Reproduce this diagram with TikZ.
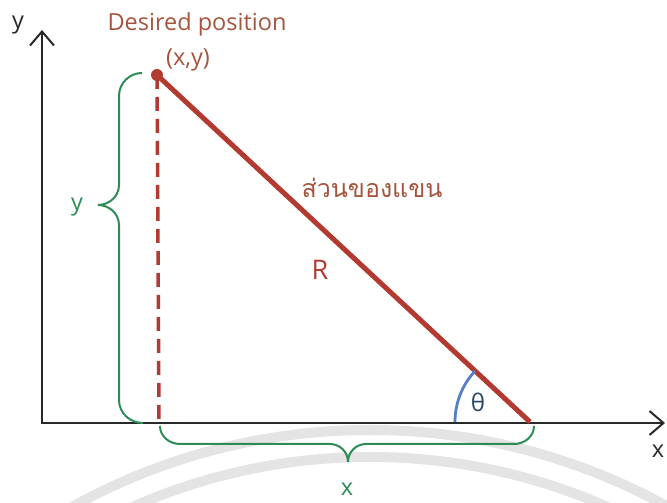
\documentclass[tikz,border=0pt]{standalone}
\usepackage{fontspec}
\setmainfont{Open Sans}
\newfontfamily\thaifont[Script=Thai]{Loma}
\usetikzlibrary{arrows.meta,calc}
\definecolor{armred}{RGB}{178,58,48}
\definecolor{txtbrown}{RGB}{165,85,62}
\definecolor{brgreen}{RGB}{45,140,85}
\definecolor{angblue}{RGB}{85,125,200}
\definecolor{thetablue}{RGB}{40,72,100}
\definecolor{axisgrey}{RGB}{40,42,42}
\definecolor{wmgrey}{RGB}{228,228,228}
\begin{document}
\begin{tikzpicture}[x=1pt,y=1pt,
  axisline/.style={line width=2pt, draw=axisgrey, -{Straight Barb[length=14pt,width=24pt,line width=2pt]}},
  brace/.style={draw=brgreen, line width=2pt},
  lbl/.style={inner sep=0pt, font=\fontsize{23.5}{27}\selectfont},
  biglbl/.style={inner sep=0pt, font=\fontsize{27}{31}\selectfont}]
\useasboundingbox (0,0) rectangle (667,503);
% watermark
\begin{scope}
\clip (0,0) rectangle (667,503);
\draw[wmgrey, line width=10pt] (370,-542) circle[radius=615pt];
\draw[wmgrey, line width=10pt] (370,-542) circle[radius=588pt];
\end{scope}
% points
\coordinate (O) at (42,80);
\coordinate (ytip) at (42,473);
\coordinate (xtip) at (665,80);
\coordinate (P) at (157,428);
\coordinate (Q) at (530,81);
\coordinate (F) at (159,80);
\coordinate (A) at (455,81);
% axes
\draw[axisline] ([yshift=-1pt]O) -- (ytip);
\draw[axisline] ([xshift=-1pt]O) -- (xtip);
\node[lbl, text=axisgrey] (ylab) at (18,478) {y};
\node[lbl, text=axisgrey] (xlab) at (658,52) {x};
% braces
\draw[brace] (142,430) to[out=180,in=90] (119,407) -- (119,318)
  to[out=-90,in=0] (98,298) to[out=0,in=90] (119,278) -- (119,103)
  to[out=-90,in=180] (143,80);
\node[lbl, text=brgreen] (ybr) at (77,296) {y};
\draw[brace] (160,77) to[out=-90,in=180] (180,59) -- (330,59)
  to[out=0,in=90] (348,41) to[out=90,in=180] (366,59) -- (514,59)
  to[out=0,in=-90] (534,77);
\node[lbl, text=brgreen] (xbr) at (347,14) {x};
% arm
\draw[armred, line width=3.5pt, dash pattern=on 14pt off 8pt] (P) -- (F);
\draw[armred, line width=5pt] (P) -- (Q);
\fill[armred] (P) circle[radius=6pt];
% angle
\draw[angblue, line width=2.8pt] (A) arc[start angle=180, end angle=137, radius=75pt];
\node[biglbl, text=thetablue, font=\fontsize{24}{28}\selectfont] (th) at (478,101) {θ};
% labels
\node[lbl, text=txtbrown] (dp) at (197,479) {Desired position};
\node[lbl, text=txtbrown] (xy) at (188,443) {(x,y)};
\node[lbl, text=txtbrown] (th2) at (372,315) {\thaifont\fontsize{25}{29}\selectfont ส่วนของแขน};
\node[biglbl, text=armred] (R) at (320,233) {R};
\end{tikzpicture}
\end{document}
